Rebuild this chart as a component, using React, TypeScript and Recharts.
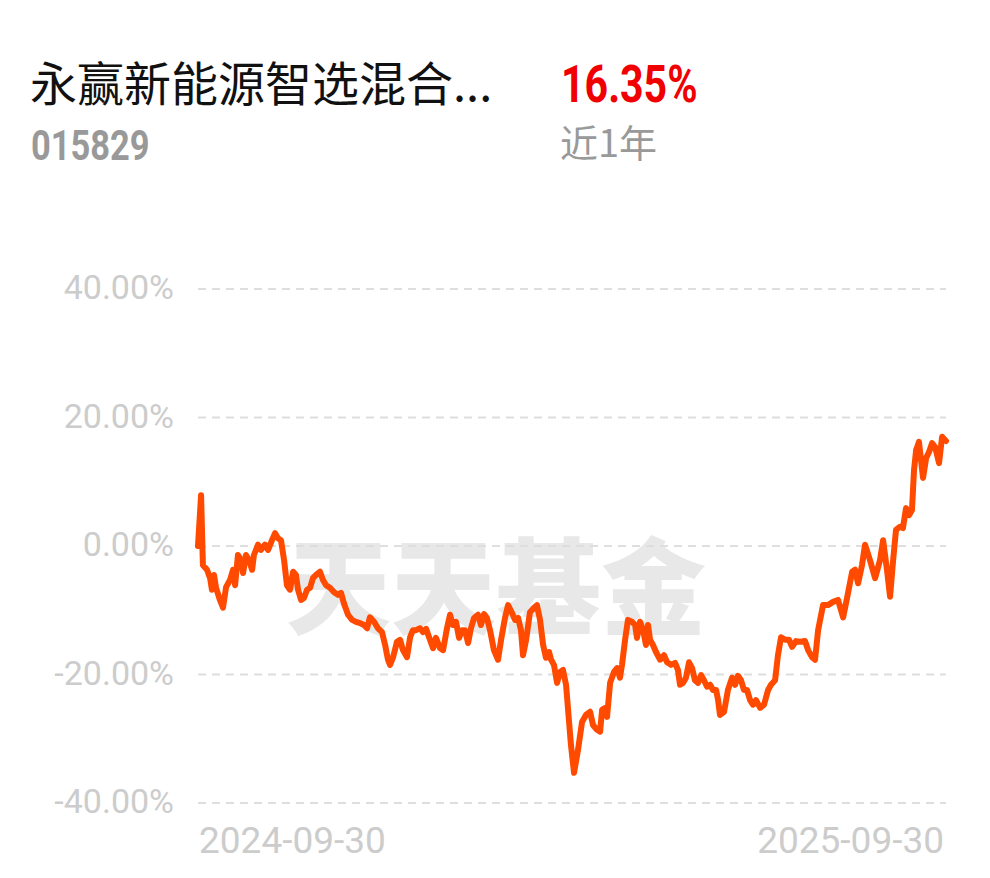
import React from "react";
import { LineChart, Line, XAxis, YAxis, CartesianGrid } from "recharts";

const fundName = "永赢新能源智选混合...";
const fundCode = "015829";
const periodReturn = "16.35%";
const periodLabel = "近1年";
const watermark = "天天基金";

const dateTicks = [0, 365];
const dateLabels = ["2024-09-30", "2025-09-30"];
const yTicks = [-40, -20, 0, 20, 40];

const days = [
  0, 1.5, 2.4, 4.4, 5.9, 6.8, 7.8, 8.8, 10.7, 12.2,
  13.7, 15.6, 17.1, 18.1, 19.5, 21.0, 22.0, 23.4, 24.9, 26.4,
  27.3, 29.3, 30.7, 32.7, 34.2, 36.1, 37.6, 39.0, 40.5, 42.0,
  43.4, 44.9, 46.4, 47.8, 48.8, 50.3, 51.7, 53.2, 54.7, 56.1,
  57.6, 59.5, 61.0, 62.5, 64.4, 66.4, 68.3, 69.8, 71.2, 73.2,
  75.2, 77.1, 79.1, 81.0, 82.5, 83.9, 85.9, 87.8, 89.8, 91.3,
  92.7, 93.7, 95.2, 97.1, 98.6, 100.0, 102.0, 103.5, 104.9, 106.4,
  108.3, 109.8, 111.3, 113.2, 114.7, 116.1, 118.1, 119.6, 121.5, 123.0,
  124.4, 125.9, 127.4, 128.8, 130.3, 131.8, 133.2, 134.7, 136.6, 138.1,
  139.6, 141.0, 142.5, 144.4, 146.4, 147.9, 149.8, 151.3, 153.2, 154.7,
  156.2, 157.6, 158.6, 160.1, 162.0, 164.0, 165.4, 166.9, 168.4, 169.8,
  171.3, 172.3, 173.7, 175.2, 176.7, 178.1, 179.6, 181.0, 182.0, 183.5,
  185.4, 187.4, 189.3, 191.3, 192.8, 194.7, 196.2, 197.2, 198.6, 199.6,
  201.1, 203.0, 204.5, 205.9, 206.9, 208.4, 209.8, 211.8, 213.3, 214.2,
  215.7, 217.2, 218.6, 219.6, 220.6, 222.0, 223.5, 225.5, 227.4, 228.9,
  230.8, 232.8, 234.2, 235.2, 236.7, 238.1, 239.6, 241.1, 242.5, 244.0,
  245.5, 246.9, 248.4, 249.9, 251.3, 252.8, 253.8, 254.7, 256.7, 258.6,
  260.6, 262.1, 263.5, 265.0, 266.4, 267.9, 269.4, 270.8, 272.3, 274.3,
  276.2, 278.2, 279.6, 281.6, 283.0, 284.5, 286.5, 288.4, 289.9, 291.8,
  293.8, 296.2, 297.7, 299.6, 301.1, 302.6, 305.0, 307.4, 309.9, 312.3,
  314.8, 316.7, 319.2, 320.6, 322.1, 324.0, 325.5, 327.9, 330.4, 332.8,
  334.3, 336.2, 337.7, 339.2, 340.6, 342.6, 344.0, 345.5, 347.0, 348.4,
  349.4, 350.4, 351.8, 353.8, 355.3, 356.7, 358.2, 359.7, 361.6, 363.1,
  365,
];

const returns = [
  0, 7.9, -3.0, -3.7, -5.0, -6.8, -4.5, -6.5, -8.4, -9.6,
  -6.4, -5.3, -3.7, -6.1, -1.4, -2.2, -4.2, -1.4, -2.2, -3.7,
  -1.4, 0.2, -0.6, 0.2, -0.6, 0.9, 2.0, 1.2, 0.9, -2.2,
  -6.1, -6.8, -4.0, -4.5, -6.8, -8.4, -8.1, -6.8, -6.5, -5.0,
  -4.5, -4.0, -5.3, -6.1, -6.5, -7.2, -7.6, -7.3, -8.9, -10.7,
  -11.5, -11.8, -12.0, -12.3, -12.8, -11.1, -11.8, -12.8, -13.4, -15.4,
  -17.7, -18.5, -17.3, -14.9, -14.6, -16.2, -17.3, -14.2, -13.1, -13.1,
  -12.8, -13.4, -12.9, -14.6, -15.9, -14.3, -15.9, -16.2, -12.8, -10.7,
  -12.3, -11.8, -14.3, -13.1, -13.1, -15.1, -12.8, -11.2, -10.7, -12.3,
  -10.6, -11.2, -13.1, -16.2, -17.7, -14.6, -11.2, -9.2, -10.4, -11.5,
  -11.2, -13.1, -17.0, -14.6, -10.3, -9.6, -9.2, -11.5, -15.4, -17.4,
  -16.5, -17.7, -18.5, -21.3, -19.6, -19.3, -21.6, -27.1, -31.0, -35.3,
  -31.8, -27.4, -26.3, -25.8, -27.9, -28.6, -28.9, -25.5, -25.2, -26.6,
  -21.3, -19.6, -19.0, -20.5, -18.5, -14.6, -11.5, -11.8, -12.3, -14.3,
  -11.8, -13.1, -15.4, -12.3, -14.6, -15.4, -16.5, -17.7, -17.0, -18.1,
  -18.5, -18.2, -19.3, -21.6, -21.3, -20.5, -18.1, -19.0, -20.9, -21.3,
  -20.1, -20.9, -21.9, -21.6, -22.4, -22.4, -24.0, -26.3, -25.8, -22.4,
  -20.5, -21.6, -20.2, -20.9, -22.4, -22.4, -24.0, -24.7, -24.0, -25.2,
  -24.7, -22.4, -21.6, -20.9, -17.0, -14.2, -14.6, -14.6, -15.7, -14.8,
  -14.9, -14.8, -16.2, -17.3, -17.7, -13.1, -9.2, -9.2, -8.7, -8.4,
  -11.1, -8.1, -4.0, -3.7, -5.8, -3.0, 0.2, -2.2, -5.0, -2.2,
  0.9, -3.7, -7.9, -2.2, 2.5, 3.0, 2.8, 5.9, 4.8, 5.6,
  11.8, 14.9, 16.2, 10.6, 13.7, 14.6, 16.0, 15.4, 12.9, 17.0,
  16.35,
];

const chartData = days.map((d, i) => ({ day: d, value: returns[i] }));

const DateTick = (props: any) => {
  const { x, y, index } = props;
  const isFirst = index === 0;
  return (
    <text
      x={isFirst ? x + 1 : x - 2}
      y={y + 50}
      textAnchor={isFirst ? "start" : "end"}
      fill="#cccccc"
      fontSize={37}
      fontFamily="Roboto, sans-serif"
    >
      {dateLabels[index]}
    </text>
  );
};

const PercentTick = (props: any) => {
  const { x, y, payload } = props;
  return (
    <text
      x={x}
      y={y + 10}
      textAnchor="end"
      fill="#cccccc"
      fontSize={34}
      fontFamily="Roboto, sans-serif"
    >
      {`${Number(payload.value).toFixed(2)}%`}
    </text>
  );
};

export default function App() {
  return (
    <div
      style={{
        position: "absolute",
        left: 0,
        top: 0,
        width: 990,
        height: 878,
        background: "#ffffff",
        overflow: "hidden",
      }}
    >
      <div
        style={{
          position: "absolute",
          left: 30,
          top: 57,
          fontSize: 47,
          lineHeight: 1,
          fontFamily: "'Noto Sans CJK SC', sans-serif",
          color: "#111111",
          whiteSpace: "nowrap",
        }}
      >
        {fundName}
      </div>
      <div
        style={{
          position: "absolute",
          left: 31,
          top: 125,
          fontSize: 42,
          lineHeight: 1,
          fontWeight: 700,
          fontFamily: "Roboto, sans-serif",
          color: "#999999",
          whiteSpace: "nowrap",
          transform: "scaleX(0.82)",
          transformOrigin: "left top",
        }}
      >
        {fundCode}
      </div>
      <div
        style={{
          position: "absolute",
          left: 561,
          top: 59,
          fontSize: 52,
          lineHeight: 1,
          fontWeight: 700,
          fontFamily: "Roboto, sans-serif",
          color: "#f00000",
          whiteSpace: "nowrap",
          transform: "scaleX(0.79)",
          transformOrigin: "left top",
        }}
      >
        {periodReturn}
      </div>
      <div
        style={{
          position: "absolute",
          left: 560,
          top: 122,
          fontSize: 38,
          lineHeight: 1,
          fontFamily: "'Noto Sans CJK SC', sans-serif",
          color: "#999999",
          whiteSpace: "nowrap",
        }}
      >
        {periodLabel}
      </div>
      <div
        style={{
          position: "absolute",
          left: 286,
          top: 528,
          fontSize: 105,
          lineHeight: 1,
          fontWeight: 900,
          fontFamily: "'Noto Sans CJK SC', sans-serif",
          color: "#e8e8e8",
          whiteSpace: "nowrap",
        }}
      >
        {watermark}
      </div>
      <div style={{ position: "absolute", left: 0, top: 0 }}>
        <LineChart
          width={990}
          height={878}
          data={chartData}
          margin={{ top: 289, right: 44, left: 0, bottom: 0 }}
        >
          <CartesianGrid
            vertical={false}
            stroke="#dedede"
            strokeWidth={2}
            strokeDasharray="8 6"
          />
          <XAxis
            dataKey="day"
            type="number"
            domain={[0, 365]}
            ticks={dateTicks}
            height={75}
            axisLine={false}
            tickLine={false}
            tickSize={0}
            tickMargin={0}
            interval={0}
            tick={<DateTick />}
          />
          <YAxis
            type="number"
            domain={[-40, 40]}
            ticks={yTicks}
            width={198}
            axisLine={false}
            tickLine={false}
            tickSize={0}
            tickMargin={24}
            interval={0}
            tick={<PercentTick />}
          />
          <Line
            type="linear"
            dataKey="value"
            stroke="#ff4a00"
            strokeWidth={6}
            dot={false}
            strokeLinejoin="round"
            strokeLinecap="round"
            isAnimationActive={false}
          />
        </LineChart>
      </div>
    </div>
  );
}
